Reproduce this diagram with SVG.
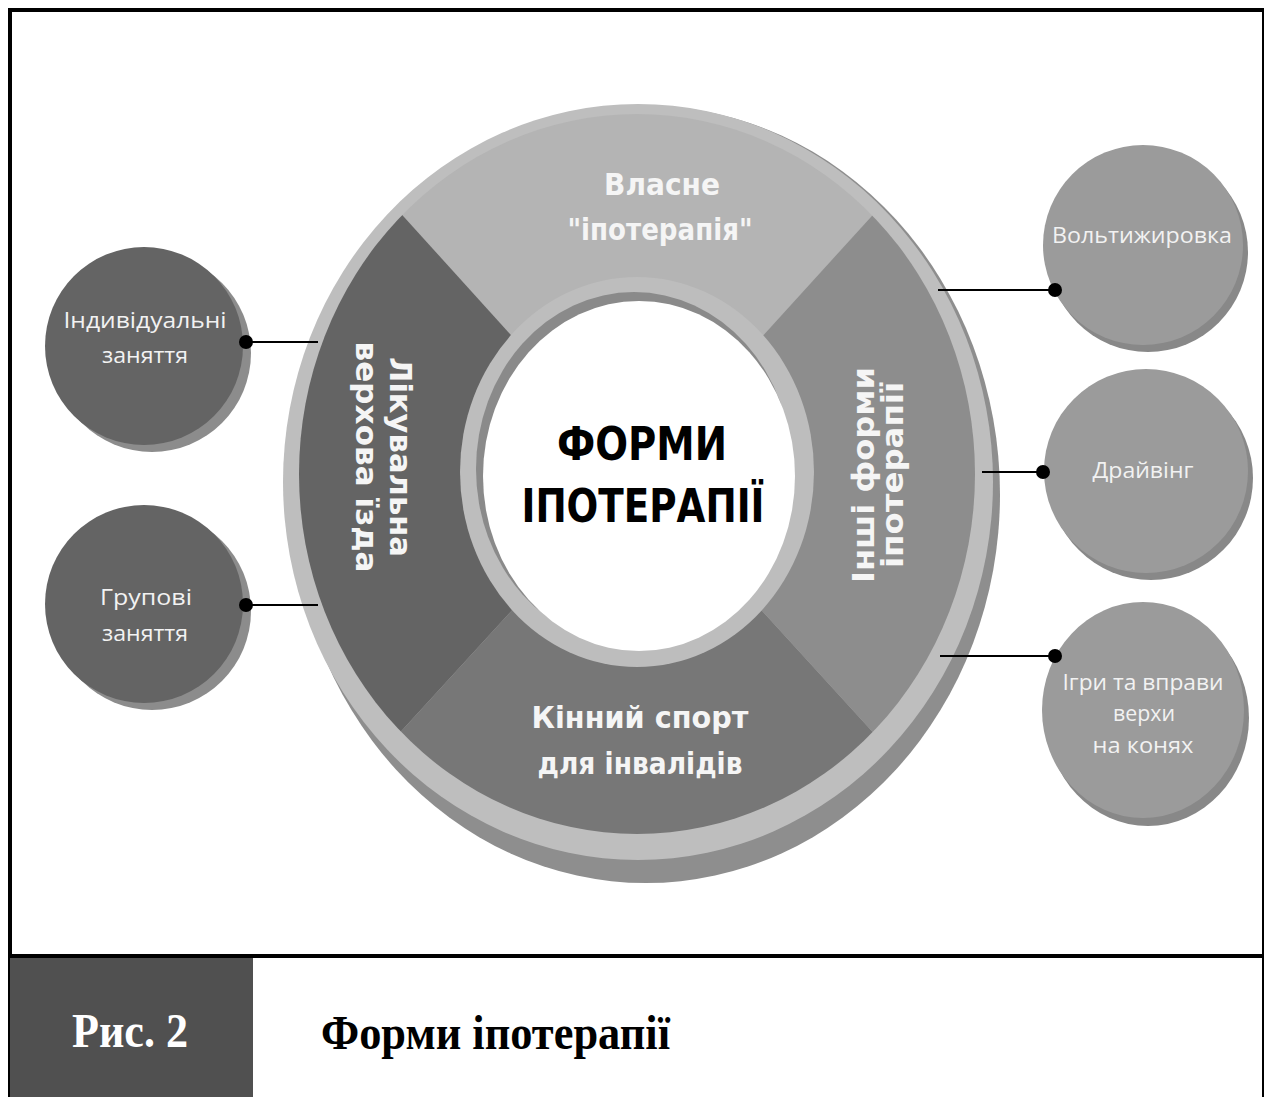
<svg xmlns="http://www.w3.org/2000/svg" width="1265" height="1097" viewBox="0 0 1265 1097">
<style>
.seg{font-family:"DejaVu Sans","Liberation Sans",sans-serif;font-weight:bold;fill:#f5f5f5;font-size:30px;text-anchor:middle}
.lbl{font-family:"Open Sans","Liberation Sans",sans-serif;fill:#f2f2f2;font-size:22px;text-anchor:middle}
.ctr{font-family:"DejaVu Sans","Liberation Sans",sans-serif;font-weight:bold;fill:#000;font-size:46px;text-anchor:middle}
.cap{font-family:"Liberation Serif","Times New Roman",serif;font-weight:bold;font-size:48px}
.lc{fill:#646464}.lsh{fill:#8c8c8c}
.rc{fill:#9b9b9b}.rsh{fill:#888888}
#connectors line{stroke:#000;stroke-width:2}
#connectors circle{fill:#000}
</style>
<defs>
<clipPath id="segclip"><ellipse cx="637" cy="474" rx="338" ry="360"/></clipPath>
</defs>
<rect x="0" y="0" width="1265" height="1097" fill="#fff"/>
<g id="frame">
<line x1="10" y1="10" x2="1263" y2="10" stroke="#000" stroke-width="4"/>
<line x1="10" y1="8" x2="10" y2="1097" stroke="#000" stroke-width="4"/>
<line x1="1263" y1="8" x2="1263" y2="1097" stroke="#000" stroke-width="2"/>
<line x1="10" y1="956" x2="1263" y2="956" stroke="#000" stroke-width="4"/>
<rect x="10" y="958" width="243" height="139" fill="#505050"/>
</g>
<g id="ring">
<ellipse cx="646" cy="494.5" rx="354" ry="388.5" fill="#8e8e8e"/>
<ellipse cx="638" cy="482" rx="355" ry="378" fill="#bebebe"/>
<g clip-path="url(#segclip)">
<polygon id="seg-top" points="637,474 153,-60 1123,-60" fill="#b4b4b4"/>
<polygon id="seg-right" points="637,474 1123,-60 1123,1006" fill="#8d8d8d"/>
<polygon id="seg-bottom" points="637,474 1123,1006 153,1002" fill="#777777"/>
<polygon id="seg-left" points="637,474 153,1002 153,-60" fill="#646464"/>
</g>
<ellipse cx="637" cy="472" rx="177" ry="195" fill="#bdbdbd"/>
<ellipse cx="634" cy="469" rx="158" ry="177" fill="#8a8a8a"/>
<ellipse cx="639" cy="476" rx="156" ry="175" fill="#fff"/>
</g>
<g id="node-center">
<text class="ctr" x="642" y="460" textLength="170" lengthAdjust="spacingAndGlyphs">ФОРМИ</text>
<text class="ctr" x="643" y="522" textLength="243" lengthAdjust="spacingAndGlyphs">ІПОТЕРАПІЇ</text>
</g>
<g id="node-top">
<text class="seg" x="662" y="195" textLength="116" lengthAdjust="spacingAndGlyphs">Власне</text>
<text class="seg" x="660" y="240" textLength="185" lengthAdjust="spacingAndGlyphs">"іпотерапія"</text>
</g>
<g id="node-left">
<text class="seg" transform="translate(390,457) rotate(90)" x="0" y="0" textLength="200" lengthAdjust="spacingAndGlyphs">Лікувальна</text>
<text class="seg" transform="translate(356,457) rotate(90)" x="0" y="0" textLength="231" lengthAdjust="spacingAndGlyphs">верхова їзда</text>
</g>
<g id="node-right">
<text class="seg" transform="translate(874,475) rotate(-90)" x="0" y="0" textLength="216" lengthAdjust="spacingAndGlyphs">Інші форми</text>
<text class="seg" transform="translate(903,475) rotate(-90)" x="0" y="0" textLength="186" lengthAdjust="spacingAndGlyphs">іпотерапії</text>
</g>
<g id="node-bottom">
<text class="seg" x="640" y="728" textLength="217" lengthAdjust="spacingAndGlyphs">Кінний спорт</text>
<text class="seg" x="640" y="774" textLength="205" lengthAdjust="spacingAndGlyphs">для інвалідів</text>
</g>
<g id="node-individual">
<circle class="lsh" cx="152" cy="353" r="99"/>
<circle class="lc" cx="144" cy="346" r="99"/>
<text class="lbl" x="145" y="328" textLength="163" lengthAdjust="spacingAndGlyphs">Індивідуальні</text>
<text class="lbl" x="145" y="363" textLength="86" lengthAdjust="spacingAndGlyphs">заняття</text>
</g>
<g id="node-group">
<circle class="lsh" cx="152" cy="611" r="99"/>
<circle class="lc" cx="144" cy="604" r="99"/>
<text class="lbl" x="146" y="605" textLength="92" lengthAdjust="spacingAndGlyphs">Групові</text>
<text class="lbl" x="145" y="641" textLength="86" lengthAdjust="spacingAndGlyphs">заняття</text>
</g>
<g id="node-volt">
<circle class="rsh" cx="1148" cy="252" r="100"/>
<circle class="rc" cx="1143" cy="245" r="100"/>
<text class="lbl" x="1142" y="243" textLength="180" lengthAdjust="spacingAndGlyphs">Вольтижировка</text>
</g>
<g id="node-driving">
<circle class="rsh" cx="1151" cy="478" r="102"/>
<circle class="rc" cx="1146" cy="471" r="102"/>
<text class="lbl" x="1143" y="478" textLength="101" lengthAdjust="spacingAndGlyphs">Драйвінг</text>
</g>
<g id="node-games">
<ellipse class="rsh" cx="1148" cy="718" rx="101" ry="108"/>
<ellipse class="rc" cx="1143" cy="710" rx="101" ry="108"/>
<text class="lbl" x="1143" y="690" textLength="161" lengthAdjust="spacingAndGlyphs">Ігри та вправи</text>
<text class="lbl" x="1144" y="721" textLength="62" lengthAdjust="spacingAndGlyphs">верхи</text>
<text class="lbl" x="1143" y="753" textLength="101" lengthAdjust="spacingAndGlyphs">на конях</text>
</g>
<g id="connectors">
<line x1="246" y1="342" x2="318" y2="342"/><circle cx="246" cy="342" r="7"/>
<line x1="246" y1="605" x2="318" y2="605"/><circle cx="246" cy="605" r="7"/>
<line x1="938" y1="290" x2="1055" y2="290"/><circle cx="1055" cy="290" r="7"/>
<line x1="982" y1="472" x2="1043" y2="472"/><circle cx="1043" cy="472" r="7"/>
<line x1="940" y1="656" x2="1055" y2="656"/><circle cx="1055" cy="656" r="7"/>
</g>
<g id="caption">
<text class="cap" x="130" y="1047" fill="#fff" text-anchor="middle" textLength="116" lengthAdjust="spacingAndGlyphs">Рис. 2</text>
<text class="cap" x="321" y="1049" fill="#000" textLength="349" lengthAdjust="spacingAndGlyphs">Форми іпотерапії</text>
</g>
</svg>
